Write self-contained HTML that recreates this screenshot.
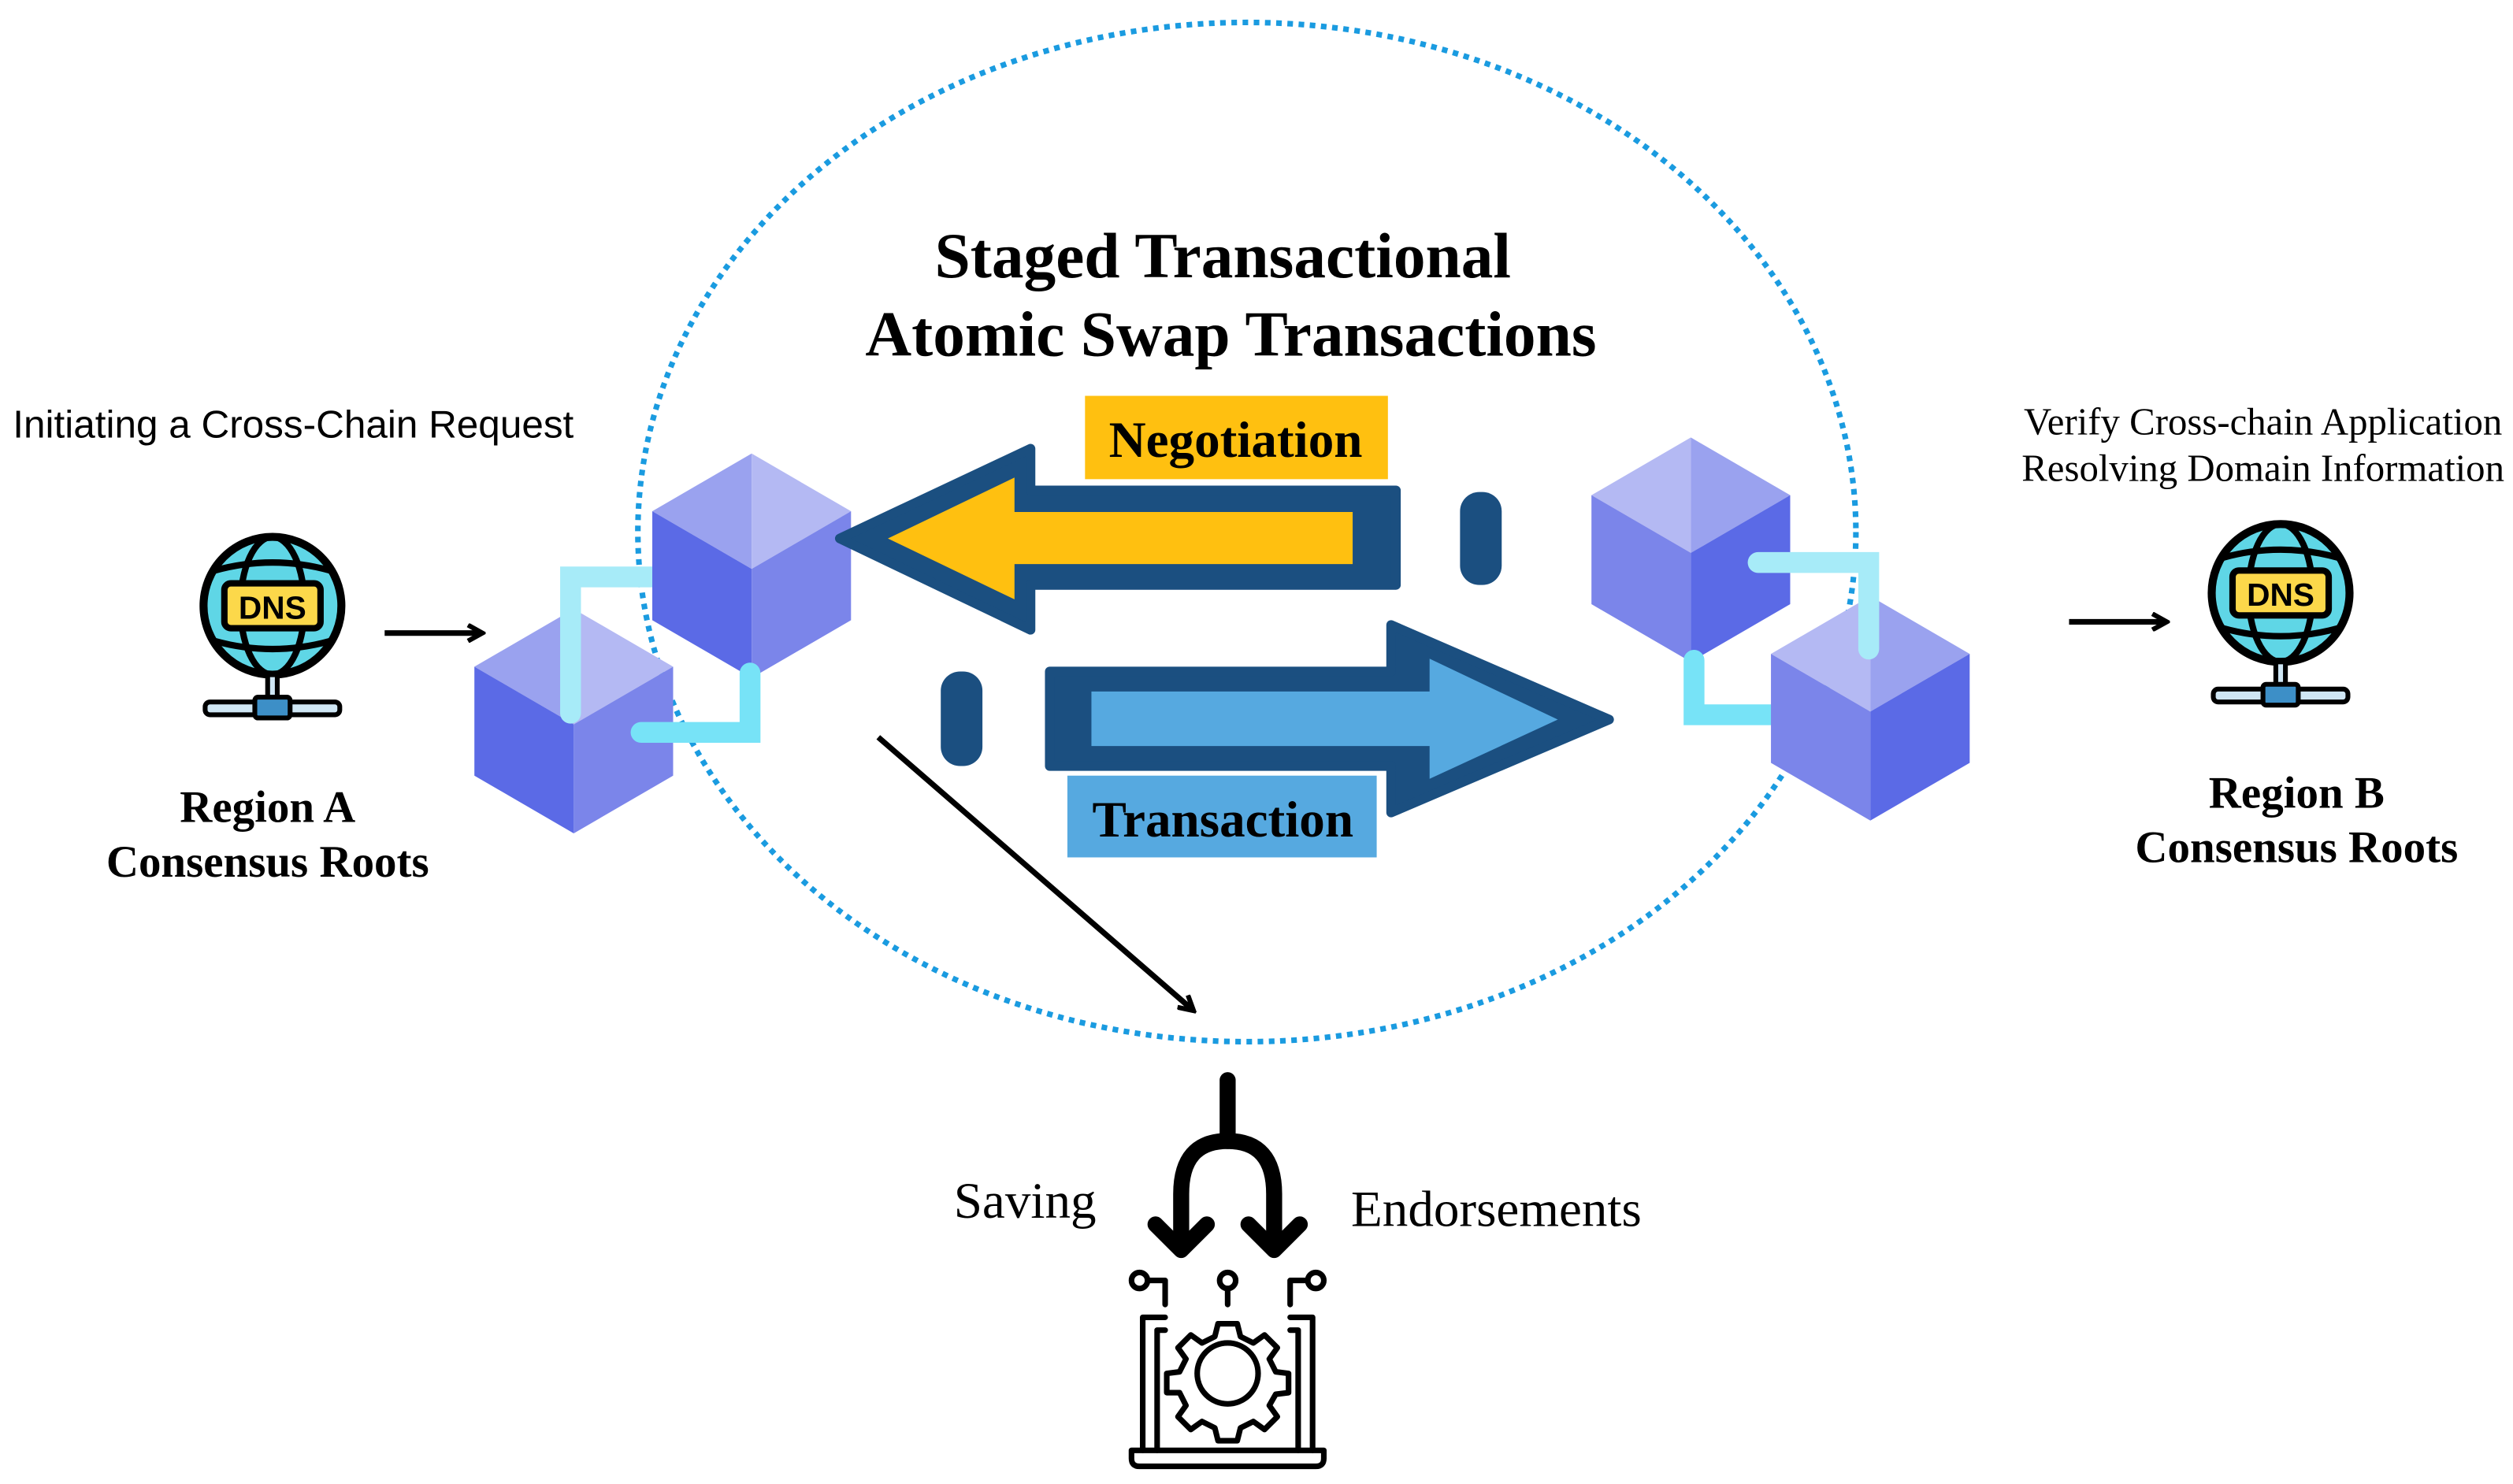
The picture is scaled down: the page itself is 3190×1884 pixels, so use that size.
<!DOCTYPE html>
<html><head><meta charset="utf-8"><style>
html,body{margin:0;padding:0;background:#fff;}
svg{display:block;}
.serif{font-family:"Liberation Serif",serif;}
.sans{font-family:"Liberation Sans",sans-serif;}
</style></head><body>
<svg width="3190" height="1884" viewBox="0 0 1568 926" preserveAspectRatio="none" xmlns="http://www.w3.org/2000/svg">
<defs>
<g id="cubeL">
<polygon points="62,0 0,36 62,72" fill="#9aa2ef"/>
<polygon points="62,0 124,36 62,72" fill="#b4b9f3"/>
<polygon points="0,36 62,72 62,140 0,104" fill="#5b6ae6"/>
<polygon points="124,36 62,72 62,140 124,104" fill="#7b85ea"/>
</g>
<g id="cubeR">
<polygon points="62,0 0,36 62,72" fill="#b4b9f3"/>
<polygon points="62,0 124,36 62,72" fill="#9aa2ef"/>
<polygon points="0,36 62,72 62,140 0,104" fill="#7b85ea"/>
<polygon points="124,36 62,72 62,140 124,104" fill="#5b6ae6"/>
</g>
<g id="dns">
<circle cx="0" cy="0" r="43" fill="#5fd6e6" stroke="#000" stroke-width="5"/>
<ellipse cx="0" cy="0" rx="20" ry="43" fill="none" stroke="#000" stroke-width="4"/>
<path d="M-36,-22 Q0,-32 36,-22 M-36,22 Q0,32 36,22" fill="none" stroke="#000" stroke-width="4"/>
<rect x="-30" y="-14" width="60" height="28" rx="4" fill="#fcd84a" stroke="#000" stroke-width="4"/>
<text x="0" y="8" text-anchor="middle" class="sans" font-weight="bold" font-size="20">DNS</text>
<rect x="-3" y="43" width="6" height="20" fill="#cfe6f4" stroke="#000" stroke-width="3"/>
<rect x="-42" y="60" width="84" height="8" rx="3" fill="#cfe6f4" stroke="#000" stroke-width="3"/>
<rect x="-11" y="57" width="22" height="13" rx="2" fill="#3d8fc7" stroke="#000" stroke-width="3"/>
</g>
<marker id="ah" markerWidth="12" markerHeight="12" refX="9" refY="6" orient="auto" markerUnits="userSpaceOnUse"><path d="M1,1 L10,6 L1,11" fill="none" stroke="#000" stroke-width="3"/></marker>
</defs>

<ellipse cx="778" cy="332" rx="380" ry="318" fill="none" stroke="#1a9be0" stroke-width="3.5" stroke-dasharray="3.5 3.5"/>

<text x="763" y="173" text-anchor="middle" class="serif" font-weight="bold" font-size="40">Staged Transactional</text>
<text x="768" y="222" text-anchor="middle" class="serif" font-weight="bold" font-size="40">Atomic Swap Transactions</text>

<text x="8" y="273" class="sans" font-size="24" textLength="350" lengthAdjust="spacingAndGlyphs">Initiating a Cross-Chain Request</text>
<use href="#dns" x="170" y="378"/>
<line x1="240" y1="395" x2="300" y2="395" stroke="#000" stroke-width="3.5" marker-end="url(#ah)"/>
<text x="167" y="513" text-anchor="middle" class="serif" font-weight="bold" font-size="28">Region A</text>
<text x="167" y="547" text-anchor="middle" class="serif" font-weight="bold" font-size="28">Consensus Roots</text>

<use href="#cubeL" x="296" y="380"/>
<path d="M356,445 L356,360 L412,360" fill="none" stroke="#a7ebf8" stroke-width="13" stroke-linecap="round"/>
<use href="#cubeL" x="407" y="283"/>
<path d="M400,457 L468,457 L468,420" fill="none" stroke="#77e3f7" stroke-width="13" stroke-linecap="round"/>

<rect x="677" y="247" width="189" height="52" fill="#ffc010"/>
<text x="771" y="285" text-anchor="middle" class="serif" font-weight="bold" font-size="32">Negotiation</text>
<polygon points="524,336 643,280 643,306 871,306 871,365 643,365 643,393" fill="#1b4f80" stroke="#1b4f80" stroke-width="6" stroke-linejoin="round"/>
<polygon points="554,336 633,298 633,319.5 844,319.5 844,352 633,352 633,374" fill="#ffc010"/>
<rect x="911" y="307" width="26" height="58" rx="12" fill="#1b4f80"/>

<polygon points="1004,449 868,390 868,419 655,419 655,478 868,478 868,507" fill="#1b4f80" stroke="#1b4f80" stroke-width="6" stroke-linejoin="round"/>
<polygon points="972,449 892,411 892,431.5 681,431.5 681,465.5 892,465.5 892,486" fill="#56a9e0"/>
<rect x="587" y="419" width="26" height="59" rx="12" fill="#1b4f80"/>
<rect x="666" y="484" width="193" height="51" fill="#56a9e0"/>
<text x="763" y="522" text-anchor="middle" class="serif" font-weight="bold" font-size="32">Transaction</text>

<use href="#cubeR" x="993" y="273"/>
<path d="M1057,412 L1057,446 L1126,446" fill="none" stroke="#77e3f7" stroke-width="13" stroke-linecap="round"/>
<use href="#cubeR" x="1105" y="372"/>
<path d="M1097,351 L1166,351 L1166,405" fill="none" stroke="#a7ebf8" stroke-width="13" stroke-linecap="round"/>

<text x="1412" y="271" text-anchor="middle" class="serif" font-size="24">Verify Cross-chain Application</text>
<text x="1412" y="300" text-anchor="middle" class="serif" font-size="24">Resolving Domain Information</text>
<line x1="1291" y1="388" x2="1351" y2="388" stroke="#000" stroke-width="3.5" marker-end="url(#ah)"/>
<use href="#dns" x="1423" y="370"/>
<text x="1433" y="504" text-anchor="middle" class="serif" font-weight="bold" font-size="28">Region B</text>
<text x="1433" y="538" text-anchor="middle" class="serif" font-weight="bold" font-size="28">Consensus Roots</text>

<line x1="548" y1="460" x2="744" y2="630" stroke="#000" stroke-width="3.5" marker-end="url(#ah)"/>

<g fill="none" stroke="#000" stroke-linecap="round" stroke-linejoin="round">
<path d="M766,674 L766,712" stroke-width="10"/>
<path d="M737,772 L737,745 Q737,712 766,712 Q795,712 795,745 L795,772" stroke-width="10"/>
<path d="M721,764 L737,780 L753,764 M779,764 L795,780 L811,764" stroke-width="10"/>
<g stroke-width="3.5">
<circle cx="711" cy="799" r="5"/><circle cx="766" cy="799" r="5"/><circle cx="821" cy="799" r="5"/>
<path d="M716,799 L727,799 L727,814 M766,804 L766,814 M816,799 L805,799 L805,814"/>
<path d="M727,822 L713,822 L713,905 M805,822 L819,822 L819,905"/>
<path d="M727,830 L722,830 L722,905 M805,830 L810,830 L810,905"/>
<path d="M706,905 L826,905 L826,910 Q826,915 821,915 L711,915 Q706,915 706,910 Z"/>
<circle cx="766" cy="857" r="19"/>
<path d="M760,826 L772,826 L774,834 L782,838 L789,833 L797,841 L792,848 L796,856 L804,857 L804,869 L796,870 L792,877 L797,884 L789,892 L782,887 L774,891 L772,899 L760,899 L758,891 L750,887 L743,892 L735,884 L740,877 L736,869 L728,869 L728,857 L736,856 L740,848 L735,841 L743,833 L750,838 L758,834 Z"/>
</g>
</g>
<text x="684" y="760" text-anchor="end" class="serif" font-size="32">Saving</text>
<text x="843" y="765" class="serif" font-size="32">Endorsements</text>
</svg>
</body></html>
